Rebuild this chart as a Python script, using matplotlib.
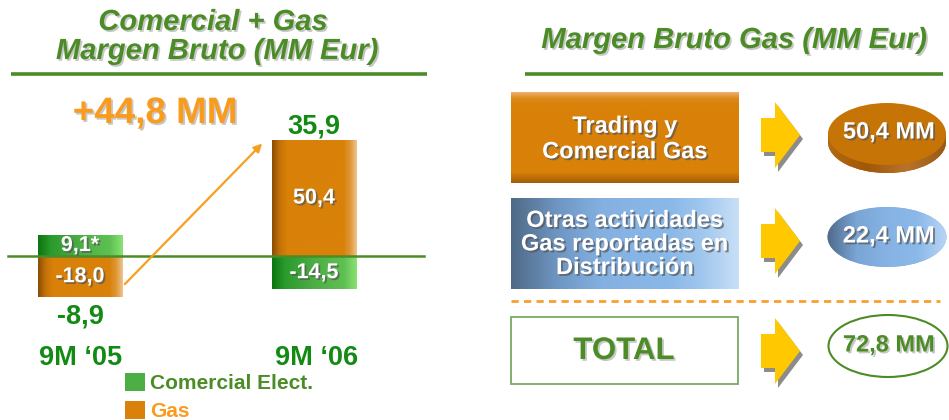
import numpy as np
import matplotlib
matplotlib.use("Agg")
import matplotlib.pyplot as plt
from matplotlib.patches import Rectangle, Ellipse, Polygon
from matplotlib.colors import LinearSegmentedColormap
import matplotlib.patheffects as pe

# ---------------- data ----------------
periods = ["9M \u201805", "9M \u201806"]
series_names = ["Comercial Elect.", "Gas"]
comercial_elect = [9.1, -14.5]
gas = [-18.0, 50.4]
comercial_labels = ["9,1*", "-14,5"]
gas_labels = ["-18,0", "50,4"]
total_labels = ["-8,9", "35,9"]
change_label = "+44,8 MM"

breakdown_names = ["Trading y\nComercial Gas",
                   "Otras actividades\nGas reportadas en\nDistribuci\u00f3n"]
breakdown_values = ["50,4 MM", "22,4 MM"]
total_name = "TOTAL"
total_value = "72,8 MM"

# ---------------- style ----------------
FONT = "Liberation Sans"
GREEN_T = "#4C8C26"
GREEN_D = "#138A13"
ORANGE_T = "#F99C1E"
ORANGE_BAR = "#D98109"
GREEN_BAR = "#4DAE45"
W, H = 949, 420

fig = plt.figure(figsize=(W / 100, H / 100), dpi=100)
fig.patch.set_facecolor("white")

# overlay axes in pixel coordinates
ax0 = fig.add_axes([0, 0, 1, 1])
ax0.set_zorder(0)
ax0.axis("off")

# bar axes
axb = fig.add_axes([0, 0, 440 / W, 340 / H])
axb.set_zorder(1)
axb.patch.set_alpha(0)
axb.axis("off")

shadow = [pe.withSimplePatchShadow(offset=(1.3, -1.3), shadow_rgbFace="#555555", alpha=0.7)]
light_shadow = [pe.withSimplePatchShadow(offset=(1.3, -1.3), shadow_rgbFace="#999999", alpha=0.55)]


def grad_fill(ax, x0, x1, y0, y1, colors, clip, vertical=False, zorder=2):
    cmap = LinearSegmentedColormap.from_list("g", colors)
    g = np.linspace(0, 1, 256)
    arr = g.reshape(-1, 1) if vertical else g.reshape(1, -1)
    im = ax.imshow(arr, cmap=cmap, extent=(x0, x1, y1, y0), origin="upper",
                   aspect="auto", interpolation="bicubic", zorder=zorder)
    im.set_clip_path(clip)
    return im


# ---------------- bar chart ----------------
x = np.arange(len(periods))
bw = 0.363
bars_c = axb.bar(x, comercial_elect, width=bw, color=GREEN_BAR, zorder=2, label=series_names[0])
bars_g = axb.bar(x, gas, width=bw, color=ORANGE_BAR, zorder=2, label=series_names[1])

green_grad = [(0, "#0B7510"), (0.15, "#2A9A2C"), (0.5, "#4DAE45"), (0.85, "#5FC052"), (1, "#8AE274")]
orange_grad = [(0, "#8A4C06"), (0.09, "#C47208"), (0.18, "#D98109"), (0.84, "#D98109"),
               (0.92, "#DE9634"), (1, "#EFC590")]
for r in bars_c:
    y0, y1 = sorted([r.get_y(), r.get_y() + r.get_height()])
    grad_fill(axb, r.get_x(), r.get_x() + r.get_width(), y1, y0, green_grad, r, zorder=3)
for r in bars_g:
    y0, y1 = sorted([r.get_y(), r.get_y() + r.get_height()])
    grad_fill(axb, r.get_x(), r.get_x() + r.get_width(), y1, y0, orange_grad, r, zorder=3)

axb.axhline(0, xmin=8 / 440, xmax=424 / 440, color=GREEN_T, lw=1.8, zorder=4)

for i in range(len(periods)):
    axb.text(x[i], comercial_elect[i] / 2, comercial_labels[i], ha="center", va="center",
             color="white", fontsize=15.5, fontweight="bold", family=FONT, zorder=5,
             path_effects=shadow)
    axb.text(x[i], gas[i] / 2, gas_labels[i], ha="center", va="center",
             color="white", fontsize=15.5, fontweight="bold", family=FONT, zorder=5,
             path_effects=shadow)
    top = max(0, comercial_elect[i]) + max(0, gas[i])
    bot = min(0, comercial_elect[i]) + min(0, gas[i])
    total = comercial_elect[i] + gas[i]
    if total >= 0:
        axb.annotate(total_labels[i], (x[i], top), xytext=(0, 7), textcoords="offset pixels",
                     ha="center", va="baseline", color=GREEN_D, fontsize=19.5,
                     fontweight="bold", family=FONT)
    else:
        axb.annotate(total_labels[i], (x[i], bot), xytext=(0, -26), textcoords="offset pixels",
                     ha="center", va="baseline", color=GREEN_D, fontsize=19.5,
                     fontweight="bold", family=FONT)
    axb.annotate(periods[i], (x[i], 0), xytext=(1 + 2 * i, -109), textcoords="offset pixels",
                 ha="center", va="baseline", color=GREEN_D, fontsize=19.5,
                 fontweight="bold", family=FONT)

# growth arrow from 9M'05 gas bar to 9M'06 bar top
axb.annotate("", xy=(x[1] - bw / 2 - 0.04, gas[1] - 1.5),
             xytext=(x[0] + bw / 2 + 0.01, gas[0] * 0.68),
             arrowprops=dict(arrowstyle="-|>", color="#F7A020", lw=1.6,
                             mutation_scale=12, shrinkA=0, shrinkB=0), zorder=4)

axb.set_xlim(-80 / 234, 360 / 234)
axb.set_ylim(-164 / 2.3, 176 / 2.3)

# legend
leg = fig.legend(handles=[bars_c, bars_g], labels=series_names, loc="upper left",
                 bbox_to_anchor=(125 / W, 1 - 373 / H), frameon=False,
                 prop=dict(family=FONT, weight="bold", size=15), handlelength=0.95,
                 handleheight=0.95, handletextpad=0.25, labelspacing=0.36, borderpad=0,
                 borderaxespad=0)
for t, c in zip(leg.get_texts(), [GREEN_T, ORANGE_T]):
    t.set_color(c)

# ---------------- overlay (pixel coords) ----------------
ax0.text(213, 30, "Comercial + Gas", ha="center", va="baseline", color=GREEN_T,
         fontsize=21, fontweight="bold", style="italic", family=FONT, path_effects=light_shadow)
ax0.text(217, 59, "Margen Bruto (MM Eur)", ha="center", va="baseline", color=GREEN_T,
         fontsize=21, fontweight="bold", style="italic", family=FONT, path_effects=light_shadow)
ax0.plot([11, 427], [74, 74], color=GREEN_T, lw=2.6, solid_capstyle="butt")

ax0.text(734, 48, "Margen Bruto Gas (MM Eur)", ha="center", va="baseline", color=GREEN_T,
         fontsize=21, fontweight="bold", style="italic", family=FONT, path_effects=light_shadow)
ax0.plot([525, 943], [74, 74], color=GREEN_T, lw=2.6, solid_capstyle="butt")

ax0.text(155, 123, change_label, ha="center", va="baseline", color=ORANGE_T,
         fontsize=26.5, fontweight="bold", family=FONT, path_effects=light_shadow)

# boxes
box1 = Rectangle((511, 92), 228, 91, facecolor=ORANGE_BAR, edgecolor="none", zorder=1)
ax0.add_patch(box1)
grad_fill(ax0, 511, 739, 92, 183,
          [(0, "#EDB070"), (0.07, "#DC8A18"), (0.15, "#D98109"), (0.88, "#D98109"), (1, "#A25C08")],
          box1, vertical=True, zorder=2)
box2 = Rectangle((511, 198), 228, 91, facecolor="#88B4E0", edgecolor="none", zorder=1)
ax0.add_patch(box2)
grad_fill(ax0, 511, 739, 198, 289,
          [(0, "#4F6A86"), (0.2, "#6E95C2"), (0.4, "#84B1E2"), (0.7, "#8AB8E8"), (0.85, "#A2C8EE"),
           (1, "#C9E0F7")],
          box2, zorder=2)
box3 = Rectangle((511, 317), 227, 67, facecolor="white", edgecolor="#7AAA62", lw=1.3, zorder=1)
ax0.add_patch(box3)

ax0.text(625, 139, breakdown_names[0], ha="center", va="center", color="white", fontsize=17,
         fontweight="bold", family=FONT, linespacing=1.14, zorder=5, path_effects=shadow)
ax0.text(625, 244, breakdown_names[1], ha="center", va="center", color="white", fontsize=17,
         fontweight="bold", family=FONT, linespacing=1.03, zorder=5, path_effects=shadow)
ax0.text(624, 359, total_name, ha="center", va="baseline", color=GREEN_T, fontsize=22.5,
         fontweight="bold", family=FONT, zorder=5, path_effects=light_shadow)

# dashed separator
ax0.plot([511, 940], [301, 301], color="#F7A030", lw=2, dashes=(2.6, 1.9))

# yellow arrows
for cy in [135, 241, 351]:
    pts = [(761, cy - 17), (775, cy - 17), (775, cy - 33), (800, cy), (775, cy + 33),
           (775, cy + 17), (761, cy + 17)]
    sh = Polygon([(px + 3, py + 4) for px, py in pts], closed=True, facecolor="#8C8C8C",
                 edgecolor="none", zorder=2)
    ax0.add_patch(sh)
    ax0.add_patch(Polygon(pts, closed=True, facecolor="#FFC800", edgecolor="none", zorder=3))

# orange disc
cx = 887
side_bot = Ellipse((cx, 142), 118, 62, facecolor="#A35E0E", edgecolor="none", zorder=2)
ax0.add_patch(side_bot)
side_rect = Rectangle((cx - 59, 134), 118, 8, facecolor="#A35E0E", edgecolor="none", zorder=2)
ax0.add_patch(side_rect)
grad_fill(ax0, cx - 59, cx + 59, 103, 173, ["#B36A10", "#A05808", "#B8732A", "#9A5A14"],
          side_bot, zorder=2.5)
top_e = Ellipse((cx, 134), 118, 62, facecolor="#C77407", edgecolor="none", zorder=3)
ax0.add_patch(top_e)
ax0.text(889, 132, breakdown_values[0], ha="center", va="center", color="white", fontsize=17,
         fontweight="bold", family=FONT, zorder=5, path_effects=shadow)

# blue ellipse
e2 = Ellipse((887, 237), 119, 60, facecolor="#88B4E0", edgecolor="none", zorder=2)
ax0.add_patch(e2)
grad_fill(ax0, 827, 947, 207, 267, ["#50698A", "#7AA6D6", "#86B3E4", "#8AB8E8", "#B9D6F3"],
          e2, zorder=3)
ax0.text(889, 236, breakdown_values[1], ha="center", va="center", color="white", fontsize=17,
         fontweight="bold", family=FONT, zorder=5, path_effects=shadow)

# green outline ellipse
ax0.add_patch(Ellipse((888, 346), 119, 62, facecolor="white", edgecolor=GREEN_T, lw=1.5, zorder=2))
ax0.text(889, 345, total_value, ha="center", va="center", color=GREEN_T, fontsize=17,
         fontweight="bold", family=FONT, zorder=5, path_effects=light_shadow)

ax0.set_xlim(0, W)
ax0.set_ylim(H, 0)

fig.savefig("out.png", dpi=100, facecolor="white")
